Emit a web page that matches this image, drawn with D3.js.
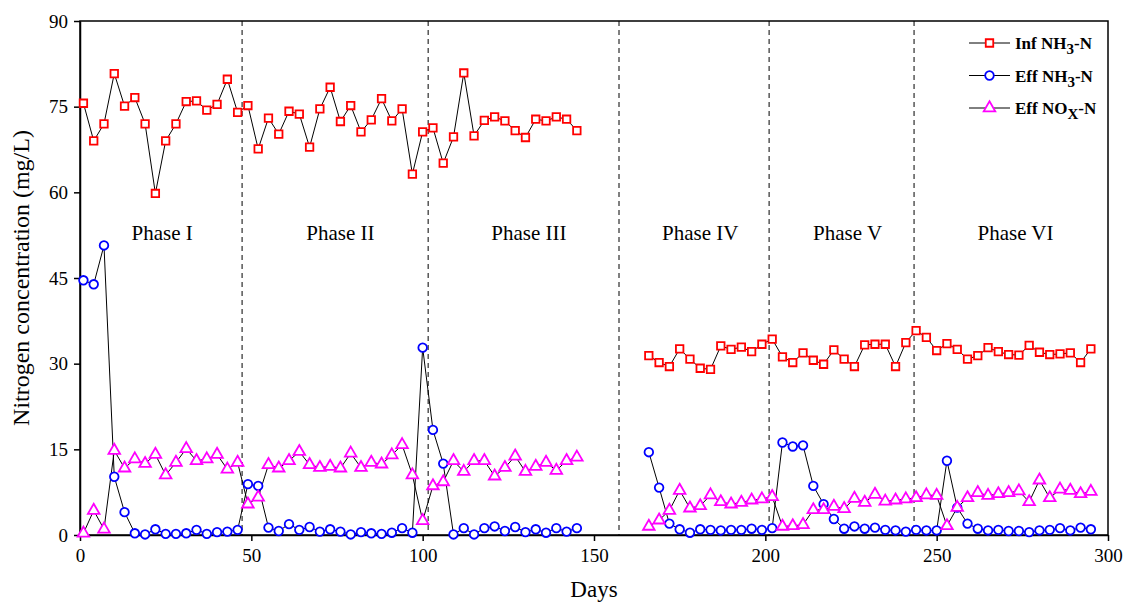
<!DOCTYPE html>
<html>
<head>
<meta charset="utf-8">
<script src="https://cdn.jsdelivr.net/npm/d3@7"></script>
<style>
  body { margin: 0; background: #fff; }
  text { font-family: "Liberation Serif", "Times New Roman", serif; }
</style>
</head>
<body>
<div id="chart"></div>
<script>
// sampling days: every 3 days, two runs with a gap
const daysA = d3.range(1, 146, 3);   // 1..145
const daysB = d3.range(166, 296, 3); // 166..295

const infA = [75.6, 69.0, 72.0, 80.8, 75.1, 76.6, 72.0, 59.8, 69.0, 72.0, 75.9, 76.0, 74.4, 75.4, 79.8, 74.0,
  75.2, 67.6, 73.0, 70.2, 74.2, 73.7, 67.9, 74.6, 78.4, 72.4, 75.2, 70.6, 72.7, 76.4, 72.5, 74.6, 63.2,
  70.6, 71.3, 65.1, 69.7, 80.9, 69.9, 72.6, 73.2, 72.5, 70.8, 69.6, 72.8, 72.5, 73.2, 72.8, 70.8];
const effNA = [44.6, 43.9, 50.7, 10.2, 4.0, 0.3, 0.1, 1.0, 0.2, 0.2, 0.3, 0.9, 0.2, 0.5, 0.6, 0.9,
  8.9, 8.6, 1.3, 0.7, 1.9, 0.9, 1.4, 0.6, 1.0, 0.6, 0.1, 0.5, 0.3, 0.2, 0.4, 1.2, 0.4,
  32.8, 18.4, 12.5, 0.1, 1.2, 0.1, 1.2, 1.5, 0.7, 1.4, 0.5, 1.0, 0.4, 1.2, 0.6, 1.2];
const noxA = [0.3, 4.3, 1.0, 14.8, 11.7, 13.3, 12.5, 14.1, 10.5, 12.7, 15.1, 13.0, 13.3, 14.1, 11.5, 12.7,
  5.4, 6.6, 12.3, 11.7, 13.0, 14.6, 12.3, 11.8, 12.0, 11.7, 14.3, 11.8, 12.7, 12.4, 14.0, 15.8, 10.5,
  2.5, 8.6, 9.3, 13.0, 11.1, 13.0, 13.0, 10.3, 11.8, 13.8, 11.1, 12.0, 12.7, 11.3, 13.0, 13.6];

const infB = [31.4, 30.2, 29.5, 32.6, 30.8, 29.2, 29.0, 33.1, 32.5, 32.9, 32.1, 33.4, 34.3, 31.2, 30.2,
  31.9, 30.6, 29.9, 32.4, 30.8, 29.5, 33.3, 33.4, 33.4, 29.5, 33.7, 35.8, 34.6, 32.3, 33.5, 32.5, 30.8,
  31.4, 32.8, 32.1, 31.6, 31.5, 33.2, 32.0, 31.6, 31.7, 31.9, 30.2, 32.6];
const effNB = [14.5, 8.3, 2.0, 1.0, 0.4, 1.0, 0.9, 0.8, 0.9, 0.9, 1.1, 0.9, 1.2, 16.2, 15.5, 15.7, 8.6,
  5.4, 2.8, 1.1, 1.5, 1.1, 1.3, 0.9, 0.8, 0.6, 0.9, 0.8, 0.8, 13.0, 4.8, 2.0, 1.1, 0.8, 0.9, 0.7, 0.7,
  0.5, 0.8, 0.9, 1.2, 0.8, 1.3, 1.0];
const noxB = [1.5, 2.6, 4.3, 7.8, 4.7, 5.1, 7.0, 5.8, 5.4, 5.7, 6.1, 6.3, 6.7, 1.5, 1.6, 1.8, 4.4, 4.4,
  5.0, 4.6, 6.4, 5.7, 7.1, 5.9, 6.1, 6.3, 6.5, 7.0, 6.9, 1.6, 4.8, 6.5, 7.4, 6.9, 7.2, 7.4, 7.7, 5.8,
  9.6, 6.5, 8.0, 7.8, 7.2, 7.6];

const phaseBreaks = [47.3, 101.6, 157.3, 201.1, 243.4];
const phaseNames = ["Phase I", "Phase II", "Phase III", "Phase IV", "Phase V", "Phase VI"];
const phaseLabelX = [24, 76, 131, 181, 224, 273];
const xTicks = [0, 50, 100, 150, 200, 250, 300];
const yTicks = [0, 15, 30, 45, 60, 75, 90];

const W = 1128, H = 602;
const margin = {top: 21, right: 20, bottom: 67, left: 80};

const x = d3.scaleLinear().domain([0, 300]).range([margin.left, W - margin.right]);
const y = d3.scaleLinear().domain([0, 90]).range([H - margin.bottom, margin.top]);

const svg = d3.select('#chart').append('svg')
  .attr('width', W)
  .attr('height', H);

// frame
svg.append('rect')
  .attr('x', x(0)).attr('y', y(90))
  .attr('width', x(300) - x(0)).attr('height', y(0) - y(90))
  .attr('fill', 'none').attr('stroke', '#000').attr('stroke-width', 1.5);

// phase separators
svg.append('g').selectAll('line')
  .data(phaseBreaks)
  .enter().append('line')
  .attr('x1', d => x(d)).attr('x2', d => x(d))
  .attr('y1', y(90)).attr('y2', y(0))
  .attr('stroke', '#000').attr('stroke-width', 1)
  .attr('stroke-dasharray', '5,4');

svg.append('g').selectAll('text')
  .data(phaseNames)
  .enter().append('text')
  .attr('x', (d, i) => x(phaseLabelX[i]))
  .attr('y', y(51.7))
  .attr('text-anchor', 'middle')
  .attr('font-size', 21)
  .text(d => d);

// axes
const xAxis = svg.append('g')
  .attr('transform', 'translate(0,' + y(0) + ')')
  .call(d3.axisBottom(x).tickValues(xTicks).tickSize(6).tickPadding(8).tickSizeOuter(0));
const yAxis = svg.append('g')
  .attr('transform', 'translate(' + x(0) + ',0)')
  .call(d3.axisLeft(y).tickValues(yTicks).tickSize(6).tickPadding(6).tickSizeOuter(0));

[xAxis, yAxis].forEach(function(g) {
  g.select('.domain').attr('stroke-width', 1.5);
  g.selectAll('.tick line').attr('stroke-width', 1.5);
  g.selectAll('.tick text')
    .attr('font-family', '"Liberation Serif", serif')
    .attr('font-size', 19)
    .attr('fill', '#000');
});

svg.append('text')
  .attr('x', (x(0) + x(300)) / 2)
  .attr('y', 597)
  .attr('text-anchor', 'middle')
  .attr('font-size', 23)
  .text('Days');

svg.append('text')
  .attr('transform', 'translate(29,' + ((y(0) + y(90)) / 2) + ') rotate(-90)')
  .attr('text-anchor', 'middle')
  .attr('font-size', 24)
  .text('Nitrogen concentration (mg/L)');

// series
const series = [
  {name: 'inf', runs: [[daysA, infA], [daysB, infB]], symbol: d3.symbolSquare, size: 56, color: '#ff0000'},
  {name: 'effN', runs: [[daysA, effNA], [daysB, effNB]], symbol: d3.symbolCircle, size: 58, color: '#0000ff'},
  {name: 'nox', runs: [[daysA, noxA], [daysB, noxB]], symbol: d3.symbolTriangle, size: 58, color: '#ff00ff'}
];

const line = d3.line().x(d => x(d[0])).y(d => y(d[1]));

series.forEach(function(s) {
  s.runs.forEach(function(r) {
    const pts = r[0].map((d, i) => [d, r[1][i]]);
    svg.append('path')
      .datum(pts)
      .attr('d', line)
      .attr('fill', 'none')
      .attr('stroke', '#000')
      .attr('stroke-width', 1);
  });
});

series.forEach(function(s) {
  s.runs.forEach(function(r) {
    const pts = r[0].map((d, i) => [d, r[1][i]]);
    svg.append('g').selectAll('path')
      .data(pts)
      .enter().append('path')
      .attr('transform', d => 'translate(' + x(d[0]) + ',' + y(d[1]) + ')')
      .attr('d', d3.symbol().type(s.symbol).size(s.size))
      .attr('fill', '#fff')
      .attr('stroke', s.color)
      .attr('stroke-width', 1.8);
  });
});

// legend
const legendLabels = [['Inf NH', '3', '-N'], ['Eff NH', '3', '-N'], ['Eff NO', 'X', '-N']];
const legend = svg.append('g').attr('transform', 'translate(969,43)');
series.forEach(function(s, i) {
  const row = legend.append('g').attr('transform', 'translate(0,' + (i * 32.5) + ')');
  row.append('line').attr('x1', 0).attr('x2', 41).attr('y1', 0).attr('y2', 0)
    .attr('stroke', '#000').attr('stroke-width', 1);
  row.append('path')
    .attr('transform', 'translate(20.5,0)')
    .attr('d', d3.symbol().type(s.symbol).size(s.size))
    .attr('fill', '#fff').attr('stroke', s.color).attr('stroke-width', 1.8);
  const t = row.append('text')
    .attr('x', 46).attr('y', 6)
    .attr('font-size', 17).attr('font-weight', 'bold');
  t.append('tspan').text(legendLabels[i][0]);
  t.append('tspan').attr('dy', 5).attr('font-size', 15).text(legendLabels[i][1]);
  t.append('tspan').attr('dy', -5).text(legendLabels[i][2]);
});
</script>
</body>
</html>
